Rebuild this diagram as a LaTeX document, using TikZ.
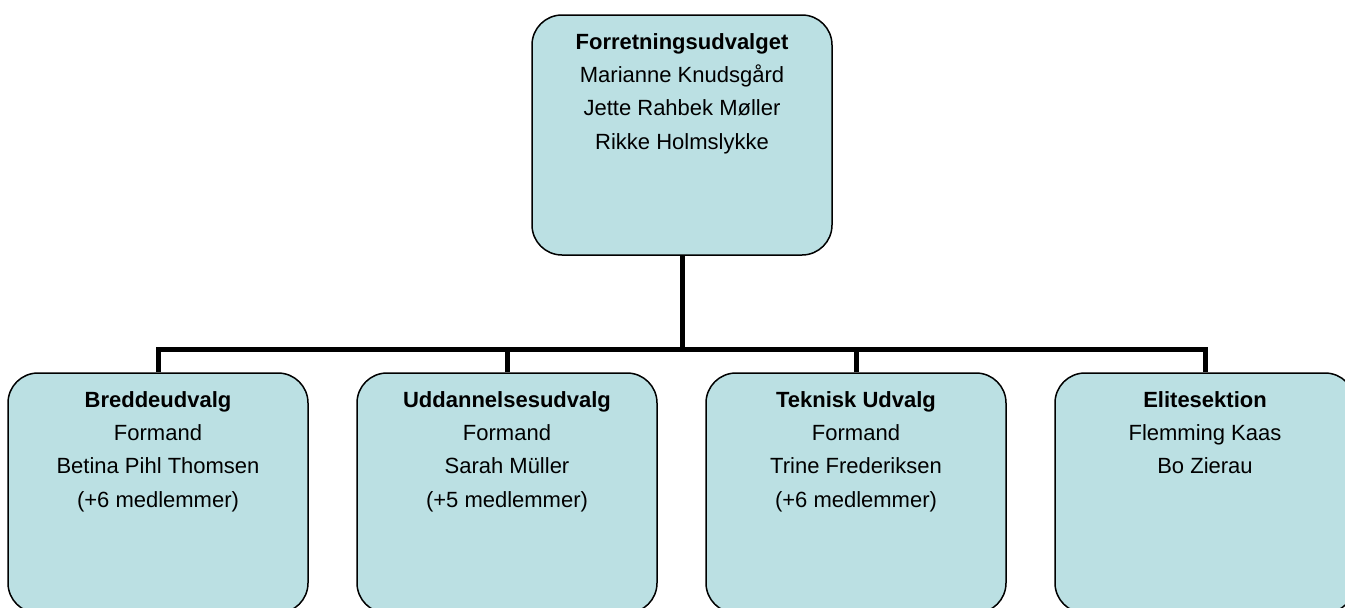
\documentclass[tikz,border=0pt]{standalone}
\usepackage{fontspec}
\setmainfont{Liberation Sans}
\definecolor{boxfill}{RGB}{187,224,227}
\begin{document}
\begin{tikzpicture}[x=1pt,y=-1pt,
  orgbox/.style={draw=black, line width=1.5pt, fill=boxfill, rounded corners=30pt, minimum width=300pt, minimum height=240pt, inner sep=0pt},
  orgtext/.style={anchor=north, align=center, inner sep=0pt, font=\fontsize{22}{33.4}\selectfont},
  conn/.style={line width=5pt, line join=miter}]
\useasboundingbox (0,0) rectangle (1345,608);
\clip (0,0) rectangle (1345,608);
\node[orgbox] (top) at (682,135) {};
\node[orgbox] (b1) at (158,493) {};
\node[orgbox] (b2) at (507,493) {};
\node[orgbox] (b3) at (856,493) {};
\node[orgbox] (b4) at (1205,493) {};
\coordinate (bus) at (682,349);
\draw[conn] (top.south) -- (bus);
\draw[conn] (b1.north) -- (b1.north |- bus) -- (b4.north |- bus) -- (b4.north);
\draw[conn] (b2.north) -- (b2.north |- bus);
\draw[conn] (b3.north) -- (b3.north |- bus);
\node[orgtext] (ttop) at (682,33) {\textbf{Forretningsudvalget}\\Marianne Knudsgård\\Jette Rahbek Møller\\Rikke Holmslykke};
\node[orgtext] (t1) at (158,391) {\textbf{Breddeudvalg}\\Formand\\Betina Pihl Thomsen\\(+6 medlemmer)};
\node[orgtext] (t2) at (507,391) {\textbf{Uddannelsesudvalg}\\Formand\\Sarah Müller\\(+5 medlemmer)};
\node[orgtext] (t3) at (856,391) {\textbf{Teknisk Udvalg}\\Formand\\Trine Frederiksen\\(+6 medlemmer)};
\node[orgtext] (t4) at (1205,391) {\textbf{Elitesektion}\\Flemming Kaas\\Bo Zierau};
\end{tikzpicture}
\end{document}
